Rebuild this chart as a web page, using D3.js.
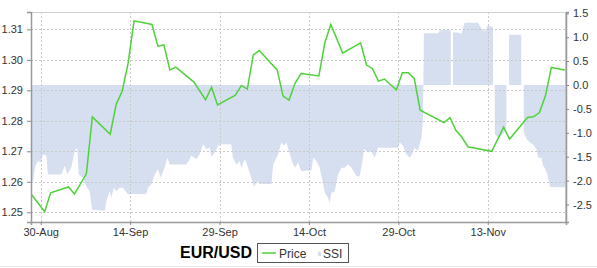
<!DOCTYPE html>
<html>
<head>
<meta charset="utf-8">
<script src="https://cdn.jsdelivr.net/npm/d3@7"></script>
<style>
  body { margin: 0; background: #fff; }
  svg { display: block; font-family: "Liberation Sans", Arial, sans-serif; }
  .tick text { fill: #333; font-size: 11px; }
</style>
</head>
<body>
<div class="graph"></div>
<script>
// EUR/USD closing price, one point per trading day
const priceDates = ["2012-08-28 10", "2012-08-30 16", "2012-08-31 16", "2012-09-03 16", "2012-09-04 16",
  "2012-09-06 16", "2012-09-07 16", "2012-09-10 16", "2012-09-11 16", "2012-09-12 16", "2012-09-13 16",
  "2012-09-14 16", "2012-09-17 16", "2012-09-18 16", "2012-09-19 16", "2012-09-20 16", "2012-09-21 16",
  "2012-09-24 16", "2012-09-26 16", "2012-09-27 16", "2012-09-28 16", "2012-10-01 16", "2012-10-02 16",
  "2012-10-03 16", "2012-10-04 16", "2012-10-05 16", "2012-10-08 16", "2012-10-09 16", "2012-10-10 16",
  "2012-10-11 16", "2012-10-12 16", "2012-10-15 16", "2012-10-16 16", "2012-10-17 16", "2012-10-19 16",
  "2012-10-22 16", "2012-10-23 16", "2012-10-24 16", "2012-10-25 16", "2012-10-26 16", "2012-10-28 16",
  "2012-10-29 16", "2012-10-30 16", "2012-10-31 16", "2012-11-01 16", "2012-11-05 16", "2012-11-06 16",
  "2012-11-07 16", "2012-11-08 16", "2012-11-09 16", "2012-11-13 16", "2012-11-15 16", "2012-11-16 16",
  "2012-11-19 16", "2012-11-20 16", "2012-11-21 16", "2012-11-22 16", "2012-11-23 16", "2012-11-26 03"];
const priceValues = [1.2559, 1.2502, 1.2564, 1.2583, 1.2560,
  1.2626, 1.2813, 1.2756, 1.2854, 1.2897, 1.2989,
  1.3128, 1.3116, 1.3045, 1.3049, 1.2967, 1.2976,
  1.2928, 1.2869, 1.2910, 1.2852, 1.2884, 1.2916,
  1.2904, 1.3016, 1.3031, 1.2967, 1.2881, 1.2868,
  1.2923, 1.2955, 1.2947, 1.3056, 1.3116, 1.3022,
  1.3056, 1.2983, 1.2971, 1.2930, 1.2937, 1.2901,
  1.2958, 1.2958, 1.2939, 1.2835, 1.2794, 1.2810,
  1.2768, 1.2746, 1.2715, 1.2700, 1.2779, 1.2740,
  1.2811, 1.2813, 1.2827, 1.2881, 1.2975, 1.2966];

// SSI readings (null = no reading)
const ssiDates = ["2012-08-28 09", "2012-08-28 17", "2012-08-29 02", "2012-08-29 13", "2012-08-30 00",
  "2012-08-30 09", "2012-08-30 23", "2012-08-31 05", "2012-09-02 11", "2012-09-03 01", "2012-09-03 11",
  "2012-09-04 03", "2012-09-04 17", "2012-09-05 03", "2012-09-05 09", "2012-09-06 02", "2012-09-06 16",
  "2012-09-07 05", "2012-09-07 15", "2012-09-09 18", "2012-09-10 00", "2012-09-10 14", "2012-09-10 20",
  "2012-09-11 07", "2012-09-11 16", "2012-09-12 06", "2012-09-12 19", "2012-09-13 16", "2012-09-14 05",
  "2012-09-16 17", "2012-09-17 00", "2012-09-17 13", "2012-09-18 03", "2012-09-18 16", "2012-09-19 03",
  "2012-09-19 19", "2012-09-20 06", "2012-09-20 15", "2012-09-21 05", "2012-09-23 10", "2012-09-23 20",
  "2012-09-24 06", "2012-09-25 03", "2012-09-25 16", "2012-09-26 06", "2012-09-26 19", "2012-09-27 09",
  "2012-09-27 15", "2012-09-28 05", "2012-09-28 18", "2012-09-29 07", "2012-09-30 23", "2012-10-01 06",
  "2012-10-01 20", "2012-10-02 09", "2012-10-02 16", "2012-10-03 06", "2012-10-03 19", "2012-10-04 08",
  "2012-10-04 19", "2012-10-05 08", "2012-10-05 18", "2012-10-07 17", "2012-10-08 00", "2012-10-08 20",
  "2012-10-09 09", "2012-10-09 20", "2012-10-10 05", "2012-10-10 19", "2012-10-11 08", "2012-10-11 17",
  "2012-10-12 04", "2012-10-12 17", "2012-10-14 10", "2012-10-14 17", "2012-10-15 06", "2012-10-15 19",
  "2012-10-16 05", "2012-10-16 16", "2012-10-17 05", "2012-10-17 12", "2012-10-17 18", "2012-10-18 08",
  "2012-10-18 21", "2012-10-19 11", "2012-10-20 00", "2012-10-20 13", "2012-10-21 03", "2012-10-21 16",
  "2012-10-21 23", "2012-10-22 12", "2012-10-22 19", "2012-10-23 06", "2012-10-23 22", "2012-10-24 11",
  "2012-10-25 01", "2012-10-25 14", "2012-10-28 23", "2012-10-29 06", "2012-10-29 19", "2012-10-30 08",
  "2012-10-30 22", "2012-10-31 07", "2012-10-31 18", "2012-11-01 07", "2012-11-01 21", "2012-11-02 03",
  "2012-11-02 07", "2012-11-04 16", "2012-11-04 23", "2012-11-05 12", "2012-11-06 19", "2012-11-06 22",
  "2012-11-07 04", "2012-11-08 00", "2012-11-08 14", "2012-11-09 03", "2012-11-11 09", "2012-11-11 22",
  "2012-11-12 12", "2012-11-13 01", "2012-11-13 14", "2012-11-13 21", "2012-11-14 01", "2012-11-14 04",
  "2012-11-14 11", "2012-11-14 18", "2012-11-15 07", "2012-11-15 20", "2012-11-16 03", "2012-11-16 08",
  "2012-11-16 14", "2012-11-18 15", "2012-11-18 20", "2012-11-19 01", "2012-11-19 12", "2012-11-20 01",
  "2012-11-20 14", "2012-11-21 04", "2012-11-21 11", "2012-11-22 00", "2012-11-22 07", "2012-11-22 13",
  "2012-11-23 00", "2012-11-23 10", "2012-11-23 16", "2012-11-26 00"];
const ssiValues = [-2.05, -2.01, -1.70, -1.59, -1.62,
  -1.45, -1.48, -1.87, -1.87, -1.69, -1.87,
  -1.73, -1.38, -1.31, -1.87, -1.94, -2.12,
  -2.22, -2.61, -2.63, -2.43, -2.22, -2.36,
  -2.15, -2.22, -2.15, -2.15, -2.29, -2.28,
  -2.28, -2.15, -2.08, -1.87, -1.76, -1.94,
  -1.73, -1.52, -1.66, -1.66, -1.66, -1.59,
  -1.48, -1.55, -1.45, -1.24, -1.34, -1.31,
  -1.50, -1.41, -1.27, -1.24, -1.24, -1.52,
  -1.66, -1.59, -1.73, -1.55, -1.73, -1.94,
  -2.12, -2.01, -2.07, -2.07, -1.66, -1.45,
  -1.20, -1.27, -1.20, -1.45, -1.66, -1.73,
  -1.62, -1.80, -1.79, -1.52, -1.59, -1.73,
  -1.97, -2.26, -2.36, -2.47, -2.26, -2.22,
  -1.87, -1.73, -1.73, -1.66, -1.73, -1.84,
  -1.91, -1.91, -1.73, -1.34, -1.41, -1.38,
  -1.52, -1.31, -1.31, -1.20, -1.27, -1.45,
  -1.52, -1.45, -1.31, -1.38, -1.10, -0.74,
  1.08, 1.08, 1.14, 1.15, 1.15, null,
  1.10, 1.10, 1.07, 1.30, 1.30, 1.18,
  1.12, 1.26, 1.22, 1.22, null, -1.03,
  -1.06, -1.10, -1.06, -0.99, -0.81, null,
  1.05, 1.05, null, -0.99, -1.13, -1.20,
  -1.24, -1.34, -1.52, -1.52, -1.69, -1.73,
  -1.87, -2.12, -2.14, -2.14];

const xDomain = ["2012-08-28 09", "2012-11-26 03"];
const xTicks = ["2012-08-30 00", "2012-09-14 00", "2012-09-29 00", "2012-10-14 00", "2012-10-29 00", "2012-11-13 00"];
const priceTicks = [1.25, 1.26, 1.27, 1.28, 1.29, 1.30, 1.31];
const priceDomain = [1.2468, 1.3157];
const ssiTicks = [-2.5, -2.0, -1.5, -1.0, -0.5, 0.0, 0.5, 1.0, 1.5];
const ssiDomain = [-2.865, 1.527];
const title = "EUR/USD";
const legendLabels = ["Price", "SSI"];

const parse = d3.utcParse("%Y-%m-%d %H");
const price = priceDates.map((d, i) => ({ t: parse(d), v: priceValues[i] }));
const ssi = ssiDates.map((d, i) => ({ t: parse(d), v: ssiValues[i] }));

const w = 597, h = 268;
const pl = 31, pr = 566, pt = 12, pb = 222;
const green = "#4fd13a", blue = "#d6dff0";

const xScale = d3.scaleUtc().domain(xDomain.map(parse)).range([pl, pr]);
const yPrice = d3.scaleLinear().domain(priceDomain).range([pb, pt]);
const ySsi = d3.scaleLinear().domain(ssiDomain).range([pb, pt]);

const svg = d3.select(".graph").append("svg").attr("width", w).attr("height", h);

svg.append("clipPath").attr("id", "plot")
  .append("rect").attr("x", pl).attr("y", pt).attr("width", pr - pl).attr("height", pb - pt);

// ssi area from zero
svg.append("path")
  .datum(ssi)
  .attr("clip-path", "url(#plot)")
  .attr("fill", blue)
  .attr("d", d3.area()
    .defined(d => d.v !== null)
    .x(d => xScale(d.t))
    .y0(ySsi(0))
    .y1(d => ySsi(d.v)));

// grid
const grid = svg.append("g").attr("stroke", "#c9c9c9").attr("stroke-dasharray", "2,2").attr("shape-rendering", "crispEdges");
grid.selectAll(".hg").data(priceTicks).enter().append("line")
  .attr("x1", pl).attr("x2", pr)
  .attr("y1", d => Math.round(yPrice(d)) + 0.5).attr("y2", d => Math.round(yPrice(d)) + 0.5);
grid.selectAll(".vg").data(xTicks.map(parse)).enter().append("line")
  .attr("y1", pt).attr("y2", pb)
  .attr("x1", d => Math.round(xScale(d)) + 0.5).attr("x2", d => Math.round(xScale(d)) + 0.5);

// price line
svg.append("path")
  .datum(price)
  .attr("clip-path", "url(#plot)")
  .attr("fill", "none")
  .attr("stroke", green)
  .attr("stroke-width", 1.5)
  .attr("d", d3.line().x(d => xScale(d.t)).y(d => yPrice(d.v)));

// frame
svg.append("rect")
  .attr("x", pl + 0.5).attr("y", pt + 0.5)
  .attr("width", pr - pl - 1).attr("height", pb - pt)
  .attr("fill", "none").attr("stroke", "#d0d0d0");

const xAxis = d3.axisBottom(xScale).tickValues(xTicks.map(parse)).tickFormat(d3.utcFormat("%d-%b")).tickSize(3).tickPadding(3);
const yAxisL = d3.axisLeft(yPrice).tickValues(priceTicks).tickFormat(d3.format(".2f")).tickSize(4).tickPadding(4);
const yAxisR = d3.axisRight(ySsi).tickValues(ssiTicks).tickFormat(d => d.toFixed(1)).tickSize(3).tickPadding(4);

function styleAxis(g) {
  g.select(".domain").attr("stroke", "#999").attr("stroke-width", 1.5);
  g.selectAll(".tick line").attr("stroke", "#888");
}

svg.append("g").attr("transform", "translate(0," + pb + ")").call(xAxis).call(styleAxis);
svg.append("g").attr("transform", "translate(" + pl + ",0)").call(yAxisL).call(styleAxis);
svg.append("g").attr("transform", "translate(" + pr + ",0)").call(yAxisR).call(styleAxis);
svg.selectAll(".tick text").attr("font-family", "Liberation Sans, Arial, sans-serif").attr("font-size", 11);

// title and legend
svg.append("text")
  .attr("x", 180).attr("y", 258)
  .attr("font-size", 16).attr("font-weight", "bold").attr("fill", "#000")
  .text(title);

const legend = svg.append("g").attr("transform", "translate(257,243)");
legend.append("rect").attr("x", 0.5).attr("y", 0.5).attr("width", 91).attr("height", 19)
  .attr("fill", "#fff").attr("stroke", "#555");
legend.append("line").attr("x1", 5).attr("x2", 19).attr("y1", 10).attr("y2", 10)
  .attr("stroke", green).attr("stroke-width", 1.5);
legend.append("text").attr("x", 22).attr("y", 14.5).attr("font-size", 12).attr("fill", "#333").text(legendLabels[0]);
legend.append("path").attr("d", "M61,13 L61,9.5 Q62.5,7 64,9.5 L64,13 Z").attr("fill", blue);
legend.append("text").attr("x", 66).attr("y", 14.5).attr("font-size", 12).attr("fill", "#333").text(legendLabels[1]);

// faint page bottom rule
svg.append("line").attr("x1", 0).attr("x2", w).attr("y1", 266.5).attr("y2", 266.5).attr("stroke", "#e6e6e6");
</script>
</body>
</html>
